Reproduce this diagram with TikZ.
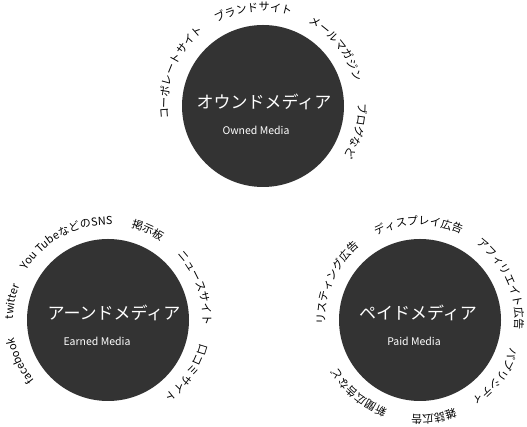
\documentclass[tikz,border=0pt]{standalone}
\usepackage{fontspec}
\setmainfont{Noto Sans CJK JP}
\usepackage{tikz}
\usetikzlibrary{decorations.text}
\definecolor{mediagray}{RGB}{51,51,51}
\newcommand{\lblfont}{\fontsize{11}{13}\selectfont}
% text bent round a circle, clockwise, centred on angle #2
\newcommand{\ringlabel}[3]{%
  \path[decorate,decoration={text along path,text align=center,text={|\lblfont|#3}}]
    (#1.center) ++(#2+55:95pt) arc[start angle=#2+55,end angle=#2-55,radius=95pt];}

\begin{document}
\begin{tikzpicture}[x=1pt,y=1pt,
    media/.style={circle,fill=mediagray,minimum size=162pt,inner sep=0pt},
    jtitle/.style={text=white,font=\fontsize{17}{20}\selectfont},
    etitle/.style={text=white,font=\fontsize{10.5}{12}\selectfont}]
    \useasboundingbox (0,0) rectangle (527,427);
    % circles
    \node[media] (owned) at (263,321) {};
    \node[media] (earned) at (108,107) {};
    \node[media] (paid) at (420,107) {};
    % names inside
    \node[jtitle] (ownedJ) at (264,325) {オウンドメディア};
    \node[etitle] (ownedE) at (256,297) {Owned Media};
    \node[jtitle] (earnedJ) at (114,114) {アーンドメディア};
    \node[etitle] (earnedE) at (97,86) {Earned Media};
    \node[jtitle] (paidJ) at (418,114) {ペイドメディア};
    \node[etitle] (paidE) at (414,86) {Paid Media};
    % owned media
    \ringlabel{owned}{158}{コーポレートサイト}
    \ringlabel{owned}{96}{ブランドサイト}
    \ringlabel{owned}{38}{メールマガジン}
    \ringlabel{owned}{-15}{ブログなど}
    % earned media
    \ringlabel{earned}{205}{facebook}
    \ringlabel{earned}{169}{twitter}
    \ringlabel{earned}{118}{You TubeなどのSNS}
    \ringlabel{earned}{66}{掲示板}
    \ringlabel{earned}{20}{ニュースサイト}
    \ringlabel{earned}{-34}{口コミサイト}
    % paid media
    \ringlabel{paid}{156}{リスティング広告}
    \ringlabel{paid}{91}{ディスプレイ広告}
    \ringlabel{paid}{24}{アフィリエイト広告}
    \ringlabel{paid}{-37}{パブリシティ}
    \ringlabel{paid}{-82}{雑誌広告}
    \ringlabel{paid}{-130}{新聞広告など}
\end{tikzpicture}
\end{document}
